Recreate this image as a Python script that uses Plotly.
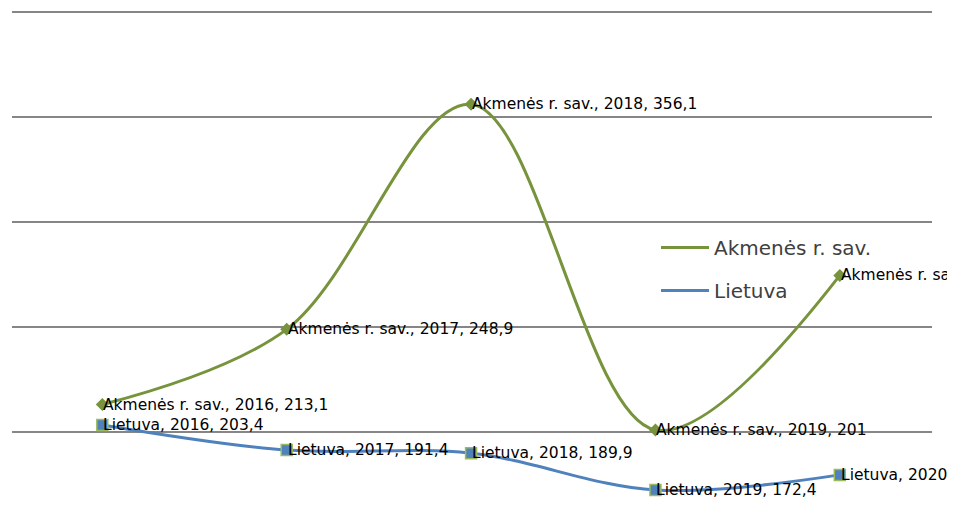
import plotly.graph_objects as go

years = [2016, 2017, 2018, 2019, 2020]
akmene_name = "Akmenės r. sav."
akmene_vals = [213.1, 248.9, 356.1, 201.0, 274.6]
akmene_labels = ["213,1", "248,9", "356,1", "201", "274,6"]
lt_name = "Lietuva"
lt_vals = [203.4, 191.4, 189.9, 172.4, 179.6]
lt_labels = ["203,4", "191,4", "189,9", "172,4", "179,6"]

GREEN = "#77933c"
BLUE = "#4f81bd"
LABEL_FONT = dict(family="DejaVu Sans", size=15.5, color="black")

fig = go.Figure()
for name, vals, color, sym, msize, mline, grp in [
    (akmene_name, akmene_vals, GREEN, "diamond", 10, dict(width=0), "a"),
    (lt_name, lt_vals, BLUE, "square", 11, dict(color="#9bbb59", width=1.5), "b"),
]:
    fig.add_trace(go.Scatter(
        x=years, y=vals, name=name, legendgroup=grp, showlegend=False,
        mode="lines+markers",
        line=dict(color=color, width=3, shape="spline", smoothing=1),
        marker=dict(symbol=sym, size=msize, color=color, line=mline),
        cliponaxis=False,
    ))
    # legend entry (line only, as in the reference)
    fig.add_trace(go.Scatter(
        x=[None], y=[None], name=name, legendgroup=grp, mode="lines",
        line=dict(color=color, width=3),
    ))

for name, vals, labs in [(akmene_name, akmene_vals, akmene_labels), (lt_name, lt_vals, lt_labels)]:
    for yr, v, lab in zip(years, vals, labs):
        fig.add_annotation(
            x=yr, y=v, text=f"{name}, {yr}, {lab}", showarrow=False,
            xanchor="left", yanchor="middle", xshift=-1, font=LABEL_FONT,
        )

fig.update_layout(
    width=947, height=524,
    margin=dict(l=4, r=23, t=3, b=0),
    paper_bgcolor="white", plot_bgcolor="white",
    showlegend=True,
    legend=dict(
        x=(656 - 12) / 920, y=1 - (228 - 11) / 521, xanchor="left", yanchor="top",
        font=dict(family="DejaVu Sans", size=20, color="#404040"),
        bgcolor="rgba(0,0,0,0)", tracegroupgap=14, itemwidth=48,
    ),
    xaxis=dict(range=[2015.51, 2020.5], showgrid=False, zeroline=False,
               showticklabels=False, showline=False, ticks=""),
    yaxis=dict(range=[152.4, 400.5], dtick=50, tick0=0, showgrid=True,
               gridcolor="#868686", gridwidth=2, zeroline=False,
               showticklabels=False, showline=False, ticks=""),
)

fig.write_html("out.html")
